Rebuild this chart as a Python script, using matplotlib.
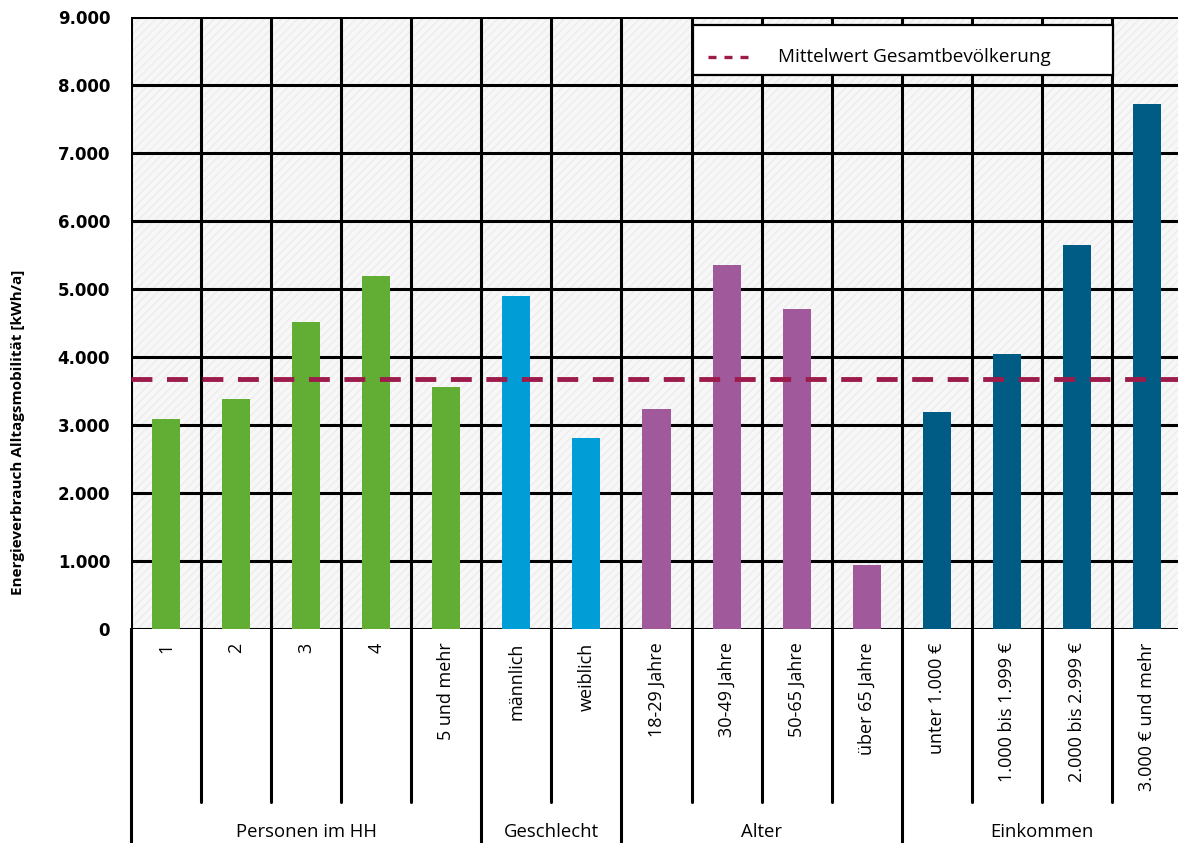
import matplotlib
matplotlib.use("Agg")
import matplotlib.pyplot as plt
from matplotlib.patches import Rectangle
from matplotlib.lines import Line2D
import numpy as np

categories = ["1", "2", "3", "4", "5 und mehr",
              "männlich", "weiblich",
              "18-29 Jahre", "30-49 Jahre", "50-65 Jahre", "über 65 Jahre",
              "unter 1.000 €", "1.000 bis 1.999 €", "2.000 bis 2.999 €", "3.000 € und mehr"]
values = [3090, 3380, 4510, 5190, 3560,
          4900, 2810,
          3240, 5350, 4710, 940,
          3190, 4040, 5650, 7720]
groups = ["Personen im HH", "Geschlecht", "Alter", "Einkommen"]
group_sizes = [5, 2, 4, 4]
group_colors = ["#62AE35", "#009DD6", "#A05A9C", "#005C85"]
mean_value = 3680
legend_label = "Mittelwert Gesamtbevölkerung"
y_label = "Energieverbrauch Alltagsmobilität [kWh/a]"
y_ticks = [0, 1000, 2000, 3000, 4000, 5000, 6000, 7000, 8000, 9000]

FONT = ["Open Sans", "DejaVu Sans"]

fig = plt.figure(figsize=(11.78, 8.43), dpi=100)
ax = fig.add_axes([131/1178, (843-629)/843, 1051/1178, 612/843])

n = len(categories)
ax.set_xlim(0, n)
ax.set_ylim(0, 9000)

# background with fine hatch
plt.rcParams['hatch.linewidth'] = 0.8
ax.set_facecolor("#f7f7f7")
bg = Rectangle((0, 0), 1, 1, transform=ax.transAxes, facecolor="none",
               edgecolor="#ebebeb", hatch="////", lw=0, zorder=0.5)
ax.add_patch(bg)

# grid lines
for yv in y_ticks:
    ax.axhline(yv, color="black", lw=2.2, zorder=1)
for i in range(n + 1):
    ax.axvline(i, color="black", lw=2.2, zorder=1)

# bars
colors = []
for g, s in enumerate(group_sizes):
    colors += [group_colors[g]] * s
x = np.arange(n) + 0.5
ax.bar(x, values, width=0.4, color=colors, zorder=3)

# mean line
ml = ax.axhline(mean_value, color="#9C1B4A", lw=3.5, zorder=4)
ml.set_dashes((4.3, 3.0))

for sp in ax.spines.values():
    sp.set_visible(False)

ax.set_xticks([])
ax.set_yticks(y_ticks)
ax.set_yticklabels([f"{v:,}".replace(",", ".") for v in y_ticks],
                   fontfamily="DejaVu Sans", fontweight="bold", fontsize=12)
ax.tick_params(axis="y", length=0, pad=15)

fig.text(18/1178, 1 - 432/843, y_label, rotation=90, ha="center", va="center",
         fontsize=11, fontweight="bold", family=FONT)

# category labels
xt = ax.get_xaxis_transform()
for xi, lab in zip(x, categories):
    ax.text(xi, -0.022, lab, rotation=90, ha="center", va="top",
            fontsize=13, family=FONT, transform=xt)

# separators below axis
bounds = np.cumsum([0] + group_sizes)
for i in range(n + 1):
    if i in bounds[:-1]:
        ax.plot([i, i], [0, -0.4], color="black", lw=2.2, transform=xt, clip_on=False)
    elif i < n:
        ax.plot([i, i], [0, -0.283], color="black", lw=2.2, transform=xt, clip_on=False,
                solid_capstyle="round")

for g, name in enumerate(groups):
    cx = (bounds[g] + bounds[g+1]) / 2
    ax.text(cx, -0.332, name, ha="center", va="center", fontsize=13.3,
            family=FONT, transform=xt)

# legend box
ta = ax.transAxes
x0 = (693-131)/1051
x1 = (1113-131)/1051
y1 = 1 - (25-17)/612
y0 = 1 - (75-17)/612
ax.add_patch(Rectangle((x0, y0), x1-x0, y1-y0, transform=ta, facecolor="white",
                       edgecolor="black", lw=1.6, zorder=6))
hx0 = (708-131)/1051
hx1 = (748-131)/1051
yc = 1 - (57-17)/612
lh = Line2D([hx0, hx1], [yc, yc], transform=ta, color="#9C1B4A", lw=2.4, zorder=7)
lh.set_dashes((2.4, 2.4))
ax.add_line(lh)
ax.text((778-131)/1051, yc, legend_label, transform=ta, ha="left", va="center",
        fontsize=13.6, family=FONT, zorder=7)

fig.savefig("out.png", dpi=100)
